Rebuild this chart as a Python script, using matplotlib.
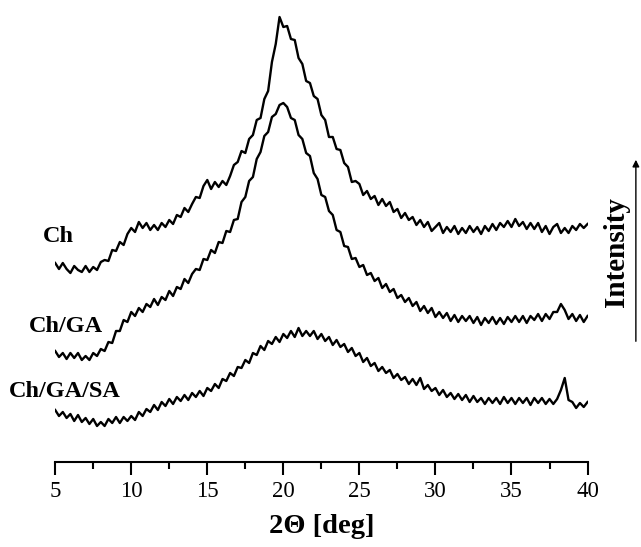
import numpy as np
import matplotlib
matplotlib.use("Agg")
import matplotlib.pyplot as plt
from matplotlib.ticker import MultipleLocator

plt.rcParams['font.family'] = ['Liberation Serif', 'DejaVu Serif']

# intensity (a.u.), one value every 0.25 deg from 5 to 40
ch = [197, 191, 197, 191, 187, 194, 190, 188, 194, 188, 193, 190, 198, 200, 199, 210,
      209, 218, 215, 226, 232, 228, 238, 232, 237, 230, 235, 230, 237, 233, 240, 236,
      245, 243, 252, 248, 256, 263, 262, 274, 280, 271, 278, 273, 279, 275, 284, 295,
      298, 309, 307, 321, 325, 340, 342, 361, 369, 398, 416, 443, 433, 434, 421, 420,
      402, 396, 379, 377, 364, 361, 345, 340, 323, 323, 311, 310, 297, 293, 278, 279,
      276, 265, 269, 261, 264, 255, 261, 254, 258, 248, 251, 242, 247, 240, 243, 235,
      240, 233, 238, 229, 233, 237, 227, 233, 228, 234, 226, 232, 227, 234, 228, 233,
      226, 234, 229, 236, 230, 237, 233, 239, 233, 241, 234, 238, 231, 237, 231, 237,
      228, 234, 226, 233, 236, 227, 232, 227, 234, 230, 236, 232, 236]
ch_ga = [109, 103, 107, 101, 107, 102, 107, 100, 104, 100, 107, 104, 111, 109, 118, 117,
         129, 129, 140, 138, 148, 144, 152, 148, 156, 153, 161, 155, 163, 160, 169, 164,
         173, 171, 181, 177, 186, 191, 190, 201, 200, 210, 207, 218, 217, 229, 228, 240,
         241, 258, 263, 279, 283, 301, 308, 324, 328, 343, 346, 355, 357, 353, 342, 340,
         325, 321, 307, 304, 287, 281, 265, 263, 249, 245, 230, 228, 214, 213, 201, 202,
         193, 195, 185, 187, 179, 182, 172, 176, 168, 171, 162, 165, 158, 162, 154, 158,
         149, 154, 147, 152, 143, 148, 142, 147, 139, 145, 138, 144, 139, 144, 137, 143,
         135, 142, 137, 143, 136, 142, 136, 143, 138, 144, 138, 144, 137, 144, 140, 146,
         139, 146, 141, 148, 148, 156, 150, 141, 146, 139, 145, 138, 144]
ch_ga_sa = [50, 44, 48, 42, 46, 39, 45, 38, 42, 36, 41, 34, 38, 34, 41, 37,
            43, 37, 43, 39, 44, 40, 48, 44, 51, 48, 55, 50, 58, 54, 61, 56,
            63, 59, 65, 60, 67, 63, 69, 64, 72, 69, 76, 72, 81, 79, 87, 84,
            93, 92, 100, 97, 107, 105, 114, 110, 119, 116, 123, 118, 126, 122, 129, 123,
            132, 124, 129, 124, 129, 121, 126, 119, 123, 115, 120, 113, 116, 108, 112, 104,
            107, 98, 102, 94, 97, 89, 93, 87, 90, 82, 86, 80, 83, 76, 81, 75,
            82, 71, 75, 69, 72, 65, 70, 63, 67, 61, 66, 60, 65, 58, 64, 58,
            62, 56, 62, 57, 62, 56, 63, 57, 62, 56, 62, 57, 62, 55, 62, 57,
            62, 56, 61, 56, 61, 70, 82, 60, 58, 52, 57, 53, 58]
series = [ch, ch_ga, ch_ga_sa]
names = ['Ch', 'Ch/GA', 'Ch/GA/SA']
label_xy = [(4.2, 223), (3.28, 133), (1.96, 68)]

fig = plt.figure(figsize=(6.41, 5.47), dpi=100)
ax = fig.add_axes([0.0861, 0.1554, 0.8305, 0.8446])

for ys, name, (lx, ly) in zip(series, names, label_xy):
    tt = np.linspace(5, 40, len(ys))
    ax.plot(tt, ys, color='black', lw=1.7)
    ax.text(lx, ly, name, fontsize=17.5, fontweight='bold', va='center', ha='left',
            clip_on=False)

ax.set_xlim(5, 40)
ax.set_ylim(-2, 460)
for s in ['left', 'right', 'top']:
    ax.spines[s].set_visible(False)
ax.spines['bottom'].set_linewidth(1.5)
ax.set_yticks([])
ax.xaxis.set_major_locator(MultipleLocator(5))
ax.xaxis.set_minor_locator(MultipleLocator(2.5))
ax.tick_params(axis='x', which='major', direction='out', length=9, width=1.5,
               labelsize=16.5, pad=5)
ax.tick_params(axis='x', which='minor', direction='out', length=5, width=1.5)
ax.set_xlabel('2Θ [deg]', fontsize=20.5, fontweight='bold', labelpad=8)

fig.text(0.961, 0.539, 'Intensity', rotation=90, fontsize=21, fontweight='bold',
         ha='center', va='center')
ax.annotate('', xy=(0.992, 0.713), xytext=(0.992, 0.371), xycoords='figure fraction',
            arrowprops=dict(arrowstyle='-|>', color='black', lw=1.0,
                            mutation_scale=10))

fig.savefig('out.png', dpi=100)
